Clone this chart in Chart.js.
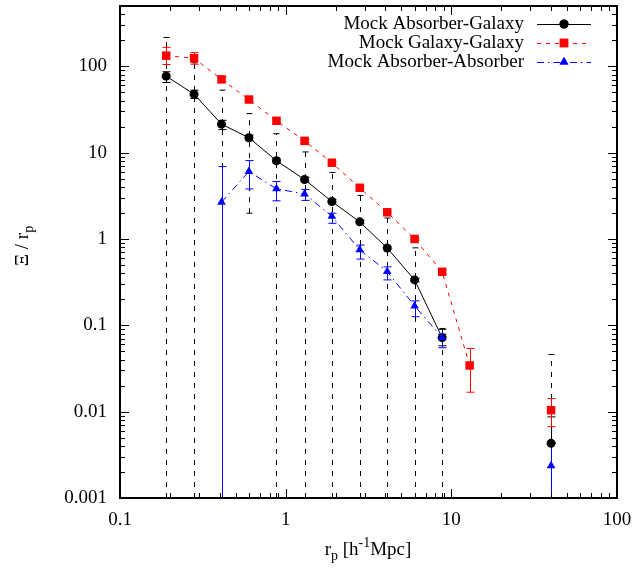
<!DOCTYPE html>
<html><head><meta charset="utf-8">
<script src="https://cdn.jsdelivr.net/npm/chart.js@4"></script>
<style>html,body{margin:0;padding:0;background:#fff}canvas{display:block}</style>
</head><body>
<canvas id="c" width="633" height="571"></canvas>
<script>
// ---- data ----
const rp = [0.19, 0.28, 0.41, 0.6, 0.88, 1.3, 1.9, 2.8, 4.1, 6.0, 8.8, 12.9, 19, 28, 40];
const absGal   = [77, 47.6, 21.4, 14.9, 8.07, 4.88, 2.72, 1.58, 0.786, 0.336, 0.072, null, null, null, 0.0043];
const absGalLo = [65, 42.4, 18.5, 13.8, 7.6, 4.6, 2.6, 1.5, 0.76, 0.32, 0.058, null, null, null, 0];
const absGalHi = [86.6, 53, 23.7, 16, 8.5, 5.2, 2.85, 1.66, 0.82, 0.35, 0.09, null, null, null, 0.0087];
const bigLo    = [0, 0, 0, 1.99, 0, 0, 0, 0, 0, 0, 0, null, null, null, 0];
const bigHi    = [216, 110, 53, 28.4, 16.6, 10.2, 5.9, 3.2, 1.75, 0.79, 0.092, null, null, null, 0.046];
const galGal   = [133, 124, 70.6, 41.3, 23.4, 13.7, 7.65, 3.92, 2.04, 1.0, 0.417, 0.0343, null, null, 0.0104];
const galGalLo = [105, 106, 66, 39, 22.5, 13.2, 7.4, 3.8, 1.98, 0.97, 0.4, 0.0168, null, null, 0.0067];
const galGalHi = [166, 144, 75, 43.5, 24.3, 14.2, 7.9, 4.05, 2.1, 1.03, 0.435, 0.054, null, null, 0.0142];
const absAbs   = [null, null, 2.67, 6.06, 3.81, 3.33, 1.83, 0.75, 0.42, 0.168, 0.072, null, null, null, 0.00236];
const absAbsLo = [null, null, 0, 3.8, 2.77, 2.8, 1.52, 0.585, 0.336, 0.126, 0.055, null, null, null, 0];
const absAbsHi = [null, null, 6.9, 8.1, 4.64, 3.75, 1.99, 0.85, 0.476, 0.192, 0.079, null, null, null, 0.0044];
const seriesNames = ['Mock Absorber-Galaxy', 'Mock Galaxy-Galaxy', 'Mock Absorber-Absorber'];
const xTickValues = [0.1, 1, 10, 100];
const xTickLabels = ['0.1', '1', '10', '100'];
const yTickValues = [0.001, 0.01, 0.1, 1, 10, 100];
const yTickLabels = ['0.001', '0.01', '0.1', '1', '10', '100'];

const FONT = "'Liberation Serif','Times New Roman',serif";
const toPts = arr => rp.map((x, i) => ({x: x, y: arr[i]}));

const styles = [
  {color: '#000000', dash: [], point: 'circle', r: 4.5},
  {color: '#ff0000', dash: [4, 5], point: 'rect', r: 6},
  {color: '#0000ff', dash: [7, 4, 1.5, 4], point: 'triangle', r: 5}
];

function drawBar(ctx, area, ys, xp, lo, hi, cap) {
  const yHi = ys.getPixelForValue(hi);
  const yLo = lo > 0 ? ys.getPixelForValue(lo) : area.bottom;
  ctx.beginPath();
  ctx.moveTo(xp, yLo); ctx.lineTo(xp, yHi);
  ctx.stroke();
  ctx.setLineDash([]);
  ctx.beginPath();
  ctx.moveTo(xp - cap, yHi); ctx.lineTo(xp + cap, yHi);
  if (lo > 0) { ctx.moveTo(xp - cap, yLo); ctx.lineTo(xp + cap, yLo); }
  ctx.stroke();
}

const errPlugin = {
  id: 'err',
  beforeDatasetsDraw(chart) {
    const ctx = chart.ctx, xs = chart.scales.x, ys = chart.scales.y, a = chart.chartArea;
    ctx.save();
    ctx.beginPath(); ctx.rect(a.left, a.top, a.right - a.left, a.bottom - a.top); ctx.clip();
    ctx.lineWidth = 1;
    ctx.strokeStyle = '#000';
    rp.forEach((x, i) => {
      if (bigHi[i] == null) return;
      ctx.setLineDash([5, 6]);
      drawBar(ctx, a, ys, Math.round(xs.getPixelForValue(x)) + 0.5, bigLo[i], bigHi[i], 3);
    });
    const sets = [[absGalLo, absGalHi, '#000'], [galGalLo, galGalHi, '#ff0000'], [absAbsLo, absAbsHi, '#0000ff']];
    sets.forEach(([lo, hi, col]) => {
      ctx.strokeStyle = col;
      rp.forEach((x, i) => {
        if (hi[i] == null) return;
        ctx.setLineDash([]);
        drawBar(ctx, a, ys, Math.round(xs.getPixelForValue(x)) + 0.5, lo[i], hi[i], 4);
      });
    });
    ctx.restore();
  },
  afterDraw(chart) {
    const ctx = chart.ctx, xs = chart.scales.x, ys = chart.scales.y, a = chart.chartArea;
    ctx.save();
    ctx.strokeStyle = '#000'; ctx.lineWidth = 1;
    ctx.beginPath();
    for (let d = -1; d < 2; d++) {
      for (let m = 1; m <= 9; m++) {
        const v = m * Math.pow(10, d);
        const px = Math.round(xs.getPixelForValue(v)) + 0.5;
        const L = m === 1 ? 9 : 5;
        ctx.moveTo(px, a.bottom); ctx.lineTo(px, a.bottom - L);
        ctx.moveTo(px, a.top); ctx.lineTo(px, a.top + L);
      }
    }
    for (let d = -3; d < 3; d++) {
      for (let m = 1; m <= 9; m++) {
        const v = m * Math.pow(10, d);
        if (v > ys.max) continue;
        const py = Math.round(ys.getPixelForValue(v)) + 0.5;
        const L = m === 1 ? 9 : 5;
        ctx.moveTo(a.left, py); ctx.lineTo(a.left + L, py);
        ctx.moveTo(a.right, py); ctx.lineTo(a.right - L, py);
      }
    }
    ctx.stroke();
    ctx.lineWidth = 2;
    ctx.strokeRect(a.left, a.top, a.right - a.left, a.bottom - a.top);

    // legend
    ctx.font = '19px ' + FONT;
    ctx.textAlign = 'right'; ctx.textBaseline = 'middle';
    const rows = [24, 43, 62];
    seriesNames.forEach((n, i) => {
      const y = rows[i];
      ctx.fillStyle = '#000';
      ctx.fillText(n, 524, y);
      const s = styles[i];
      ctx.strokeStyle = s.color; ctx.lineWidth = 1; ctx.setLineDash(s.dash);
      ctx.beginPath(); ctx.moveTo(537, y + 0.5); ctx.lineTo(591, y + 0.5); ctx.stroke();
      ctx.setLineDash([]);
      ctx.fillStyle = s.color;
      Chart.helpers.drawPoint(ctx, {pointStyle: s.point, radius: s.r, borderWidth: 0}, 564, y);
      ctx.fill();
    });

    function rich(parts, x, y) {
      let w = 0;
      parts.forEach(p => { ctx.font = p.s + 'px ' + FONT; p.w = ctx.measureText(p.t).width; w += p.w; });
      let cx = x - w / 2;
      ctx.textAlign = 'left'; ctx.textBaseline = 'alphabetic';
      parts.forEach(p => { ctx.font = p.s + 'px ' + FONT; ctx.fillText(p.t, cx, y + p.dy); cx += p.w; });
    }
    ctx.fillStyle = '#000';
    rich([{t: 'r', s: 19, dy: 0}, {t: 'p', s: 14, dy: 5}, {t: ' [h', s: 19, dy: 0}, {t: '-1', s: 14, dy: -8}, {t: 'Mpc]', s: 19, dy: 0}], 368, 555);
    ctx.save();
    ctx.translate(28, 246); ctx.rotate(-Math.PI / 2);
    rich([{t: 'Ξ / r', s: 19, dy: 0}, {t: 'p', s: 14, dy: 5}], 0, 0);
    ctx.restore();
    ctx.restore();
  }
};

const mk = (arr, i) => ({
  data: toPts(arr), borderColor: styles[i].color, backgroundColor: styles[i].color,
  borderWidth: 1, borderDash: styles[i].dash, pointStyle: styles[i].point,
  pointRadius: styles[i].r, pointBorderWidth: 0, pointHoverRadius: styles[i].r,
  spanGaps: false, tension: 0, fill: false, order: 3 - i
});

new Chart(document.getElementById('c'), {
  type: 'line',
  data: {datasets: [mk(absGal, 0), mk(galGal, 1), mk(absAbs, 2)]},
  options: {
    responsive: false, animation: false, devicePixelRatio: 1,
    layout: {padding: {left: 0, top: 6, right: 16, bottom: 0}},
    plugins: {legend: {display: false}, tooltip: {enabled: false}},
    scales: {
      x: {
        type: 'logarithmic', min: 0.1, max: 100,
        grid: {display: false, drawTicks: false}, border: {display: false},
        afterBuildTicks: s => { s.ticks = xTickValues.map(v => ({value: v})); },
        afterFit: s => { s.height = 73; s.paddingLeft = 0; s.paddingRight = 0; },
        ticks: {font: {family: FONT, size: 19}, color: '#000', padding: 11, maxRotation: 0, autoSkip: false,
          callback: v => { const k = xTickValues.indexOf(v); return k >= 0 ? xTickLabels[k] : ''; }}
      },
      y: {
        type: 'logarithmic', min: 0.001, max: 500,
        grid: {display: false, drawTicks: false}, border: {display: false},
        afterBuildTicks: s => { s.ticks = yTickValues.map(v => ({value: v})); },
        afterFit: s => { s.width = 120; s.paddingTop = 0; s.paddingBottom = 0; },
        ticks: {font: {family: FONT, size: 19}, color: '#000', padding: 13, autoSkip: false,
          callback: v => { const k = yTickValues.indexOf(v); return k >= 0 ? yTickLabels[k] : ''; }}
      }
    }
  },
  plugins: [errPlugin]
});
</script>
</body></html>
